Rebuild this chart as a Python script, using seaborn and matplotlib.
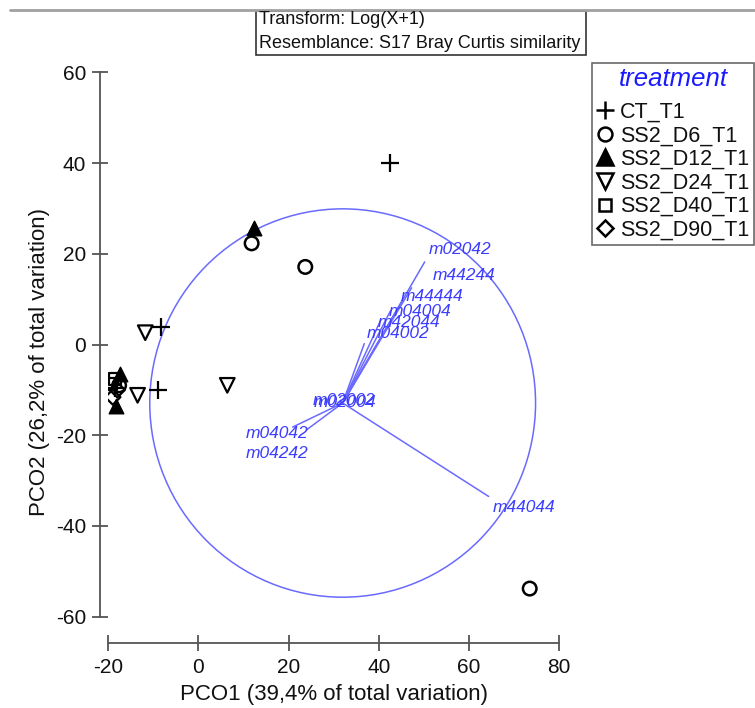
import matplotlib
matplotlib.use("Agg")
import matplotlib.pyplot as plt
from matplotlib.lines import Line2D
from matplotlib.patches import Circle, Rectangle
import seaborn as sns
import pandas as pd

# ---- data ----
treatments = ["CT_T1", "SS2_D6_T1", "SS2_D12_T1", "SS2_D24_T1", "SS2_D40_T1", "SS2_D90_T1"]
ct_x = [42.4, -8.4, -8.9, -18.6]
ct_y = [40.0, 3.9, -10.1, -9.6]
d6_x = [11.8, 23.7, 73.5, -17.6]
d6_y = [22.3, 17.1, -53.8, -9.0]
d12_x = [12.4, -17.5, -18.2]
d12_y = [25.6, -6.6, -13.6]
d24_x = [-11.8, 6.4, -13.5]
d24_y = [2.6, -9.0, -11.2]
d40_x = [-19.5, -18.6]
d40_y = [-8.6, -7.6]
d90_x = [-19.0, -18.0]
d90_y = [-11.6, -10.0]

vec_names = ["m02042", "m44244", "m44444", "m04004", "m42044", "m04002",
             "m04042", "m04242", "m44044", "m02002", "m02004"]
vec_x = [50.2, 47.3, 45.3, 42.6, 40.4, 36.8, 20.9, 24.0, 64.4, 31.5, 31.3]
vec_y = [18.2, 12.5, 9.8, 7.4, 5.3, 0.2, -18.2, -18.8, -33.5, -12.3, -12.6]
lab_x = [51.1, 51.9, 44.8, 42.2, 39.7, 37.3, 10.4, 10.4, 65.3, 25.4, 25.6]
lab_y = [21.0, 15.1, 10.5, 7.2, 4.8, 2.4, -19.7, -24.1, -35.9, -12.4, -12.7]
circle_center = (32.0, -12.9)
circle_radius = 42.8

xticks = [-20, 0, 20, 40, 60, 80]
yticks = [-60, -40, -20, 0, 20, 40, 60]

groups = {
    "CT_T1": (ct_x, ct_y),
    "SS2_D6_T1": (d6_x, d6_y),
    "SS2_D12_T1": (d12_x, d12_y),
    "SS2_D24_T1": (d24_x, d24_y),
    "SS2_D40_T1": (d40_x, d40_y),
    "SS2_D90_T1": (d90_x, d90_y),
}
rows = []
for t in treatments:
    xs, ys = groups[t]
    for a, b in zip(xs, ys):
        rows.append({"treatment": t, "PCO1": a, "PCO2": b})
df = pd.DataFrame(rows)

# ---- style ----
sns.set_theme(style="ticks")
plt.rcParams["font.family"] = ["Liberation Sans", "DejaVu Sans"]
plt.rcParams["axes.unicode_minus"] = False

W, H = 755, 708
fig = plt.figure(figsize=(W / 100, H / 100), dpi=100)
ax = fig.add_axes([108.3 / W, 1 - 616.7 / H, (559 - 108.3) / W, (616.7 - 72.3) / H])

marker_spec = {
    "CT_T1": dict(marker="+", s=150, color="black", linewidths=1.6),
    "SS2_D6_T1": dict(marker="o", s=95, facecolors="none", edgecolors="black", linewidths=1.8),
    "SS2_D12_T1": dict(marker="^", s=110, color="black", edgecolors="black", linewidths=1.0),
    "SS2_D24_T1": dict(marker="v", s=110, facecolors="none", edgecolors="black", linewidths=1.6),
    "SS2_D40_T1": dict(marker="s", s=75, facecolors="none", edgecolors="black", linewidths=1.6),
    "SS2_D90_T1": dict(marker="D", s=60, facecolors="none", edgecolors="black", linewidths=1.6),
}

vcol = "#6a6aff"
tcol = "#3c3cff"
# circle and vectors
ax.add_patch(Circle(circle_center, circle_radius, fill=False, edgecolor=vcol, lw=1.1, zorder=1))
for n, vx, vy, lx, ly in zip(vec_names, vec_x, vec_y, lab_x, lab_y):
    ax.plot([circle_center[0], vx], [circle_center[1], vy], color=vcol, lw=1.1, zorder=1)
    ax.text(lx, ly, n, color=tcol, fontsize=12.5, style="italic", ha="left", va="center", zorder=2)

for t in treatments:
    sub = df[df["treatment"] == t]
    sns.scatterplot(data=sub, x="PCO1", y="PCO2", ax=ax, legend=False, zorder=3, **marker_spec[t])

ax.set_xlim(-20, 80)
ax.set_ylim(-60, 60)
ax.set_xticks(xticks)
ax.set_yticks(yticks)
for s in ["top", "right"]:
    ax.spines[s].set_visible(False)
ax.spines["left"].set_position(("outward", 6))
ax.spines["bottom"].set_position(("outward", 18.7))
for s in ["left", "bottom"]:
    ax.spines[s].set_color("#555555")
    ax.spines[s].set_linewidth(1.3)
ax.tick_params(axis="both", direction="inout", length=12, width=1.3, color="#555555",
               labelsize=15, labelcolor="#111111", left=True, bottom=True)
ax.tick_params(axis="y", pad=4)
ax.tick_params(axis="x", pad=5)
ax.set_xlabel("PCO1 (39,4% of total variation)", fontsize=16, color="#111111")
ax.set_ylabel("PCO2 (26,2% of total variation)", fontsize=16, color="#111111")
ax.xaxis.set_label_coords(0.5, -0.123)
ax.yaxis.set_label_coords(-0.13, 0.468)
ax.patch.set_alpha(0)

# top window line
fig.add_artist(Line2D([10 / W, 1], [1 - 10 / H, 1 - 10 / H], transform=fig.transFigure,
                      color="#a0a0a0", lw=2))
# info box
fig.add_artist(Rectangle((256 / W, 1 - 55 / H), 330 / W, 44 / H, transform=fig.transFigure,
                         fill=True, facecolor="white", edgecolor="#333333", lw=1.2))
fig.text(259 / W, 1 - 20 / H, "Transform: Log(X+1)", fontsize=13, va="center", ha="left", color="#111111")
fig.text(259 / W, 1 - 43.5 / H, "Resemblance: S17 Bray Curtis similarity", fontsize=13,
         va="center", ha="left", color="#111111")

# legend
handles = []
for t in treatments:
    sp = marker_spec[t]
    filled = sp.get("facecolors", "black") != "none"
    ms = {"+": 13, "o": 10, "^": 11, "v": 11, "s": 9, "D": 8}[sp["marker"]]
    handles.append(Line2D([], [], linestyle="none", marker=sp["marker"], markersize=ms,
                          markerfacecolor="black" if filled else "none",
                          markeredgecolor="black", markeredgewidth=1.8))
leg = fig.legend(handles, treatments, loc="upper left", bbox_to_anchor=(592 / W, 1 - 63 / H),
                 title="treatment", fontsize=15.5, title_fontsize=18.5, frameon=True, fancybox=False,
                 edgecolor="#444444", handlelength=0.8, handletextpad=0.3, borderaxespad=0,
                 labelspacing=0.12, borderpad=0.2)
leg._legend_box.sep = 7.5
leg.get_title().set_color("#1a1aff")
leg.get_title().set_style("italic")
leg.get_frame().set_linewidth(1.2)
for txt in leg.get_texts():
    txt.set_color("#111111")

fig.savefig("out.png", dpi=100)
